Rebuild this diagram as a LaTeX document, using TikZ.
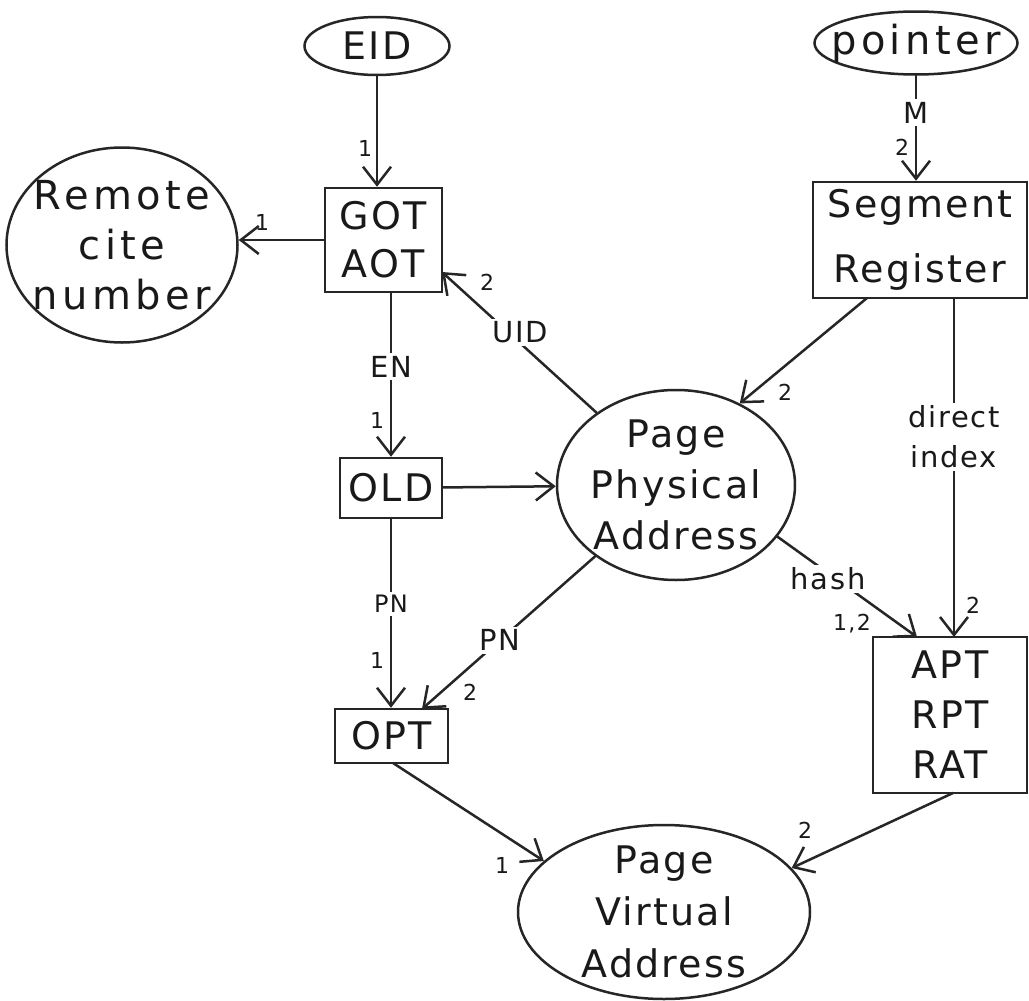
\documentclass[tikz,border=0pt]{standalone}
\usepackage{fontspec}
\setmainfont{DejaVu Sans}[LetterSpace=6]
\usetikzlibrary{shapes.geometric, arrows.meta}

\begin{document}
\begin{tikzpicture}[x=1pt, y=-1pt,
  ink/.style={draw=black!85, line width=2.5pt},
  oval/.style={ink, ellipse, inner sep=0pt},
  box/.style={ink, rectangle, inner sep=0pt},
  main/.style={font=\fontsize{38}{50}\selectfont, align=center, inner sep=0pt, text=black!90},
  wide/.style={main, font=\fontsize{40}{50}\selectfont\addfontfeature{LetterSpace=11}},
  conn/.style={ink, line cap=round,
    -{Straight Barb[length=18pt, width=28pt, line width=2.5pt]}},
  tag/.style={fill=white, inner sep=3pt, align=center, text=black!90,
    font=\fontsize{29}{40}\selectfont},
  tagsm/.style={tag, font=\fontsize{24}{30}\selectfont},
  num/.style={inner sep=0pt, text=black!90, font=\fontsize{22}{24}\selectfont}]

% canvas
\path[fill=white, use as bounding box] (0,0) rectangle (1029,1001);

% ---- entities ----
\node[oval, minimum width=145pt, minimum height=58pt,
      label={[main]center:EID}] (eid) at (377,46) {};
\node[oval, minimum width=203pt, minimum height=63pt,
      label={[wide]center:pointer}] (ptr) at (916,43) {};
\node[oval, minimum width=231pt, minimum height=195pt,
      label={[wide]center:Remote\\cite\\number}] (remote) at (122,245) {};
\node[box, minimum width=117pt, minimum height=104pt,
      label={[main, font=\fontsize{38}{48}\selectfont]center:GOT\\AOT}] (got) at (383.5,240) {};
\node[box, minimum width=214pt, minimum height=116pt,
      label={[main, font=\fontsize{38}{65}\selectfont]center:Segment\\Register}] (seg) at (920,240) {};
\node[box, minimum width=102pt, minimum height=60pt,
      label={[main]center:OLD}] (old) at (391,488) {};
\node[box, minimum width=113pt, minimum height=54pt,
      label={[main]center:OPT}] (opt) at (391.5,736) {};
\node[box, minimum width=154pt, minimum height=156pt,
      label={[main]center:APT\\RPT\\RAT}] (apt) at (950,715) {};
\node[oval, minimum width=238pt, minimum height=190pt,
      label={[main, font=\fontsize{38}{51}\selectfont]center:Page\\Physical\\Address}] (ppa) at (676,485) {};
\node[oval, minimum width=292pt, minimum height=174pt,
      label={[main, font=\fontsize{38}{52}\selectfont]center:Page\\Virtual\\Address}] (pva) at (664,912) {};

% ---- connector end points ----
\coordinate (gotIn)   at (442,272);
\coordinate (optIn)   at (422,709);
\coordinate (segOut)  at (867,298);
\coordinate (segDn)   at (954,298);
\coordinate (aptUp)   at (954,637);
\coordinate (aptHash) at (917,637);
\coordinate (optOut)  at (393,763);
\coordinate (aptOut)  at (953,793);

% ---- connectors ----
\draw[conn] (eid.south) -- (eid.south |- got.north);
\draw[conn] (ptr.south) -- node[tag, pos=0.35]{M} (ptr.south |- seg.north);
\draw[conn] (got.west) -- (got.west -| remote.east);
\draw[conn] (got.south -| old.north) -- node[tag, pos=0.45]{EN} (old.north);
\draw[conn] (ppa) -- node[tag, pos=0.57, xshift=12pt]{UID} (gotIn);
\draw[conn] (old) -- (ppa);
\draw[conn] (old.south) -- node[tagsm, pos=0.45]{PN} (old.south |- opt.north);
\draw[conn] (ppa) -- node[tag, pos=0.55]{PN} (optIn);
\draw[conn] (segOut) -- (ppa.52);
\draw[conn] (segDn) -- node[tag, pos=0.41]{direct\\index} (aptUp);
\draw[conn] (ppa.-27) -- node[tag, pos=0.42, xshift=-8pt]{hash} (aptHash);
\draw[conn] (optOut) -- (pva.157);
\draw[conn] (aptOut) -- (pva.19);

% ---- multiplicity marks ----
\node[num] (m1)  at (365,148) {1};
\node[num] (m2)  at (902,147) {2};
\node[num] (m3)  at (262,222) {1};
\node[num] (m4)  at (487,282) {2};
\node[num] (m5)  at (377,420) {1};
\node[num] (m6)  at (785,392) {2};
\node[num] (m7)  at (377,660) {1};
\node[num] (m8)  at (470,692) {2};
\node[num] (m9)  at (973,605) {2};
\node[num] (m10) at (852,624) {1,2};
\node[num] (m11) at (502,865) {1};
\node[num] (m12) at (805,830) {2};
\end{tikzpicture}
\end{document}
